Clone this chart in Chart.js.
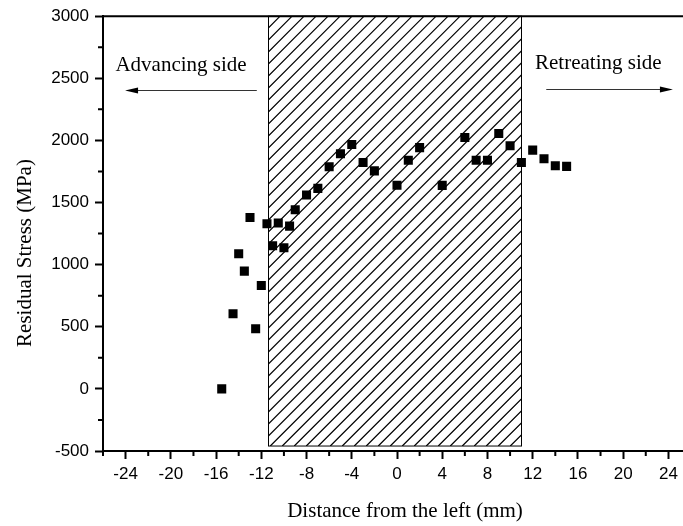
<!DOCTYPE html>
<html>
<head>
<meta charset="utf-8">
<script src="https://cdn.jsdelivr.net/npm/chart.js@4"></script>
<style>
    html, body { margin: 0; padding: 0; background: #fff; overflow: hidden; }
    #wrap { width: 683px; height: 526px; overflow: hidden; }
</style>
</head>
<body>
<div id="wrap"><canvas id="stress-chart" width="692" height="526"></canvas></div>
<script>
// Measured points: distance from the left (mm) and residual stress (MPa)
const distances = [-15.5, -14.5, -14, -13.5, -13, -12.5, -12, -11.5, -11, -10.5, -10, -9.5, -9,
    -8, -7, -6, -5, -4, -3, -2, 0, 1, 2, 4, 6, 7, 8, 9, 10, 11, 12, 13, 14, 15];
const stresses = [0, 605, 1088, 948, 1380, 484, 833, 1329, 1152, 1335, 1136, 1310, 1442,
    1560, 1614, 1788, 1892, 1968, 1823, 1755, 1640, 1840, 1942, 1638, 2024, 1841, 1841, 2056,
    1957, 1823, 1922, 1852, 1796, 1791];

const xTicks = [-24, -20, -16, -12, -8, -4, 0, 4, 8, 12, 16, 20, 24];
const xMinorTicks = [-26, -22, -18, -14, -10, -6, -2, 2, 6, 10, 14, 18, 22, 26];
const yTicks = [-500, 0, 500, 1000, 1500, 2000, 2500, 3000];
const yMinorTicks = [-250, 250, 750, 1250, 1750, 2250, 2750];

// Stir zone (hatched) and side labels
const stirZone = { from: -11.4, to: 11, bottom: -460, top: 3000 };
const sideLabels = [
    { text: "Advancing side", x: -19.1, y: 2606, arrowFrom: -12.4, arrowTo: -24.05, arrowY: 2405 },
    { text: "Retreating side", x: 17.8, y: 2622, arrowFrom: 13.2, arrowTo: 24.4, arrowY: 2413 }
];

const serif = '"Liberation Serif", "Times New Roman", serif';

const overlay = {
    id: "overlay",
    beforeDatasetsDraw(chart) {
        const { ctx, scales: { x, y } } = chart;
        const l = x.getPixelForValue(stirZone.from);
        const r = x.getPixelForValue(stirZone.to);
        const t = y.getPixelForValue(stirZone.top);
        const b = y.getPixelForValue(stirZone.bottom);
        const h = b - t;
        ctx.save();
        ctx.beginPath();
        ctx.rect(l, t, r - l, h);
        ctx.clip();
        ctx.strokeStyle = "#000";
        ctx.lineWidth = 1.2;
        ctx.beginPath();
        for (let s = l - h; s < r + 12; s += 12) {
            ctx.moveTo(s, b);
            ctx.lineTo(s + h, t);
        }
        ctx.stroke();
        ctx.restore();
        ctx.save();
        ctx.strokeStyle = "#000";
        ctx.lineWidth = 1;
        ctx.strokeRect(Math.round(l) + 0.5, t, Math.round(r - l), h);
        ctx.restore();
    },
    afterDraw(chart) {
        const { ctx, chartArea, scales: { x, y } } = chart;
        ctx.save();
        ctx.strokeStyle = "#000";
        ctx.lineWidth = 2;
        // top frame line
        ctx.beginPath();
        ctx.moveTo(chartArea.left, chartArea.top);
        ctx.lineTo(chartArea.right, chartArea.top);
        ctx.stroke();
        // minor ticks
        ctx.beginPath();
        xMinorTicks.forEach(v => {
            const px = x.getPixelForValue(v);
            ctx.moveTo(px, chartArea.bottom);
            ctx.lineTo(px, chartArea.bottom + 5);
        });
        yMinorTicks.forEach(v => {
            const py = y.getPixelForValue(v);
            ctx.moveTo(chartArea.left, py);
            ctx.lineTo(chartArea.left - 5, py);
        });
        ctx.stroke();

        // side labels with arrows
        ctx.fillStyle = "#000";
        ctx.font = "21px " + serif;
        ctx.textAlign = "center";
        ctx.textBaseline = "middle";
        sideLabels.forEach(s => {
            ctx.fillText(s.text, x.getPixelForValue(s.x), y.getPixelForValue(s.y));
            const x0 = x.getPixelForValue(s.arrowFrom);
            const x1 = x.getPixelForValue(s.arrowTo);
            const ay = Math.round(y.getPixelForValue(s.arrowY)) + 0.5;
            const dir = Math.sign(x1 - x0);
            ctx.strokeStyle = "#333";
            ctx.lineWidth = 1;
            ctx.beginPath();
            ctx.moveTo(x0, ay);
            ctx.lineTo(x1 - dir * 10, ay);
            ctx.stroke();
            ctx.beginPath();
            ctx.moveTo(x1, ay);
            ctx.lineTo(x1 - dir * 13, ay - 3);
            ctx.lineTo(x1 - dir * 13, ay + 3);
            ctx.closePath();
            ctx.fill();
        });

        // axis titles
        ctx.fillText("Distance from the left (mm)", 405, 511);
        ctx.translate(25, 253);
        ctx.rotate(-Math.PI / 2);
        ctx.fillText("Residual Stress (MPa)", 0, 0);
        ctx.restore();
    }
};

document.addEventListener("DOMContentLoaded", () => {
    const canvas = document.getElementById("stress-chart");
    if (!canvas) {
        console.error("Chart canvas not found!");
        return;
    }
    Chart.defaults.font.family = '"Liberation Sans", Arial, sans-serif';
    Chart.defaults.color = "#000";

    new Chart(canvas.getContext("2d"), {
        type: "scatter",
        data: {
            datasets: [{
                label: "Residual Stress",
                data: distances.map((d, i) => ({ x: d, y: stresses[i] })),
                pointStyle: "rect",
                pointRadius: 6.4,
                pointHoverRadius: 6.4,
                backgroundColor: "#000",
                borderColor: "#000",
                borderWidth: 0
            }]
        },
        options: {
            responsive: false,
            animation: false,
            events: [],
            layout: { autoPadding: false, padding: { top: 16, right: 1, left: 0, bottom: 0 } },
            plugins: {
                legend: { display: false },
                tooltip: { enabled: false }
            },
            scales: {
                x: {
                    type: "linear",
                    min: -26,
                    max: 26,
                    afterBuildTicks: scale => { scale.ticks = xTicks.map(v => ({ value: v })); },
                    afterFit: scale => { scale.height = 75; },
                    grid: { drawOnChartArea: false, tickLength: 8, tickWidth: 2, tickColor: "#000" },
                    border: { color: "#000", width: 2 },
                    ticks: { font: { size: 17 }, padding: 5, maxRotation: 0, autoSkip: false,
                        callback: v => String(v) }
                },
                y: {
                    min: -500,
                    max: 3000,
                    afterBuildTicks: scale => { scale.ticks = yTicks.map(v => ({ value: v })); },
                    afterFit: scale => { scale.width = 103; },
                    grid: { drawOnChartArea: false, tickLength: 8, tickWidth: 2, tickColor: "#000" },
                    border: { color: "#000", width: 2 },
                    ticks: { font: { size: 17 }, padding: 6, callback: v => String(v) }
                }
            }
        },
        plugins: [overlay]
    });
});
</script>
</body>
</html>
